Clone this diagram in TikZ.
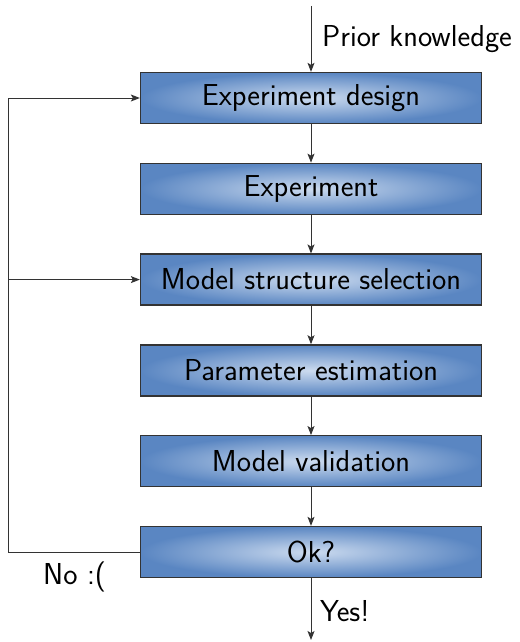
\documentclass[tikz,border=0pt]{standalone}
\usetikzlibrary{arrows.meta,positioning}
\definecolor{boxin}{HTML}{CCDBEF}
\definecolor{boxout}{HTML}{5A86C2}
\definecolor{linec}{HTML}{333333}
\tikzset{
  stepbox/.style={draw=linec, line width=1.3pt, shading=radial, inner color=boxin, outer color=boxout,
    minimum width=341pt, minimum height=51pt, inner sep=4pt, text=black,
    font=\fontsize{30.3}{36}\selectfont\sffamily},
  conn/.style={draw=linec, line width=1pt, -{Stealth[length=9pt,width=7pt,inset=2pt]}},
  plain/.style={draw=linec, line width=1pt},
  lbl/.style={font=\fontsize{30.3}{36}\selectfont\sffamily, inner sep=0pt}
}
\begin{document}
\begin{tikzpicture}[x=1pt,y=-1pt]
\useasboundingbox (0,0) rectangle (519,642);
\node[stepbox] (b1) at (311,98) {Experiment design};
\node[stepbox] (b2) at (311,188.8) {Experiment};
\node[stepbox] (b3) at (311,279.6) {Model structure selection};
\node[stepbox] (b4) at (311,370.4) {Parameter estimation};
\node[stepbox] (b5) at (311,461.2) {Model validation};
\node[stepbox] (b6) at (311,552) {Ok?};
\coordinate (top) at (311,6);
\coordinate (bot) at (311,640);
\coordinate (lt) at (8.3,98);
\coordinate (lm) at (8.3,279.6);
\coordinate (lb) at (8.3,552);
\draw[conn] (top) -- (b1.north);
\draw[conn] (b1) -- (b2);
\draw[conn] (b2) -- (b3);
\draw[conn] (b3) -- (b4);
\draw[conn] (b4) -- (b5);
\draw[conn] (b5) -- (b6);
\draw[conn] (b6) -- (bot);
\draw[plain] (b6.west) -- (lb) -- (lt);
\draw[conn] (lt) -- (b1.west);
\draw[conn] (lm) -- (b3.west);
\node[lbl, anchor=west] (pk) at (322,39) {Prior knowledge};
\node[lbl, anchor=west] (no) at (43,577) {No :(};
\node[lbl, anchor=west] (yes) at (320,611) {Yes!};
\end{tikzpicture}
\end{document}
